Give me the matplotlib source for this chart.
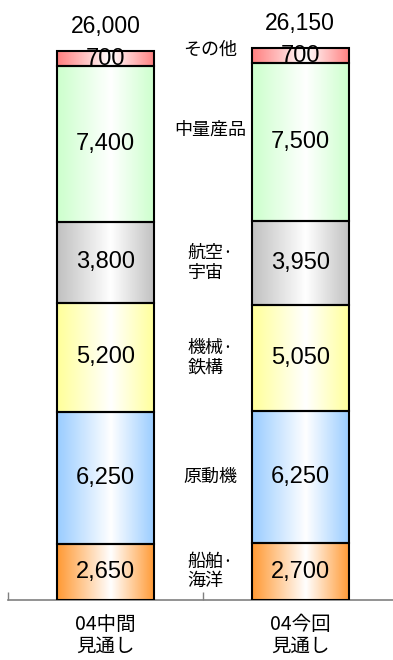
import numpy as np
import matplotlib
matplotlib.use('Agg')
import matplotlib.pyplot as plt
from matplotlib.colors import LinearSegmentedColormap, to_rgb
from matplotlib import font_manager

# データ（下から積み上げ）
bars = ['04中間\n見通し', '04今回\n見通し']
categories = ['船舶·\n海洋', '原動機', '機械·\n鉄構', '航空·\n宇宙', '中量産品', 'その他']
mid_values = [2650, 6250, 5200, 3800, 7400, 700]
now_values = [2700, 6250, 5050, 3950, 7500, 700]
totals = [26000, 26150]
colors = ['#FF9933', '#99CCFF', '#FFFF99', '#C0C0C0', '#CCFFCC', '#FF7F7F']

# 数字用のフォント（細めの書体があれば使う）
names = {f.name for f in font_manager.fontManager.ttflist}
num_font = 'Liberation Sans Narrow' if 'Liberation Sans Narrow' in names else 'Liberation Sans'
jp_font = ['Noto Sans CJK JP', 'DejaVu Sans']

fig = plt.figure(figsize=(3.93, 6.60), dpi=100)
ax = fig.add_axes([8 / 393, 60 / 660, 389.7 / 393, 600 / 660])

x = np.arange(len(bars))
width = 0.5
grad = np.linspace(0, 1, 256)[None, :]

for i, vals in enumerate([mid_values, now_values]):
    bottom = 0
    for v, c in zip(vals, colors):
        rect = ax.bar(x[i], v, width, bottom=bottom, facecolor='none',
                      edgecolor='black', linewidth=1.5, zorder=3)[0]
        # 横方向のグラデーション（端が色、中央寄りが白）
        cm = LinearSegmentedColormap.from_list('g', [(0, to_rgb(c)), (0.55, (1, 1, 1)), (1, to_rgb(c))])
        x0, y0 = rect.get_x(), rect.get_y()
        ax.imshow(grad, extent=[x0, x0 + rect.get_width(), y0, y0 + rect.get_height()],
                  aspect='auto', cmap=cm, zorder=2, interpolation='bicubic')
        ax.text(x[i], bottom + v / 2, f'{v:,}', ha='center', va='center',
                fontsize=17, family=num_font, zorder=4)
        bottom += v
    ax.annotate(f'{totals[i]:,}', (x[i], bottom), xytext=(0, 18), textcoords='offset points',
                ha='center', va='center', fontsize=16.5, family=num_font)

# 区分名は二本の棒の間に
nudge = {'中量産品': 9, 'その他': 4}
bottom = 0
for cat, v in zip(categories, now_values):
    ax.annotate(cat, (0.54, bottom + v / 2), xytext=(0, nudge.get(cat, 0)),
                textcoords='offset points', ha='center', va='center',
                multialignment='left', fontsize=13, family=jp_font, linespacing=1.1)
    bottom += v

ax.set_xlim(-0.5, 1.5)
ax.set_ylim(0, 28440)
ax.set_xticks(x)
ax.set_xticklabels(bars, fontsize=14, family=jp_font, linespacing=1.05)
ax.set_xticks([-0.5, 0.5, 1.5], minor=True)
ax.tick_params(axis='x', which='major', length=0, pad=10)
ax.tick_params(axis='x', which='minor', direction='in', length=6, color='#808080', width=1)
ax.set_yticks([])
for s in ['left', 'top', 'right']:
    ax.spines[s].set_visible(False)
ax.spines['bottom'].set_color('#808080')
ax.spines['bottom'].set_linewidth(1.2)

fig.savefig('out.png', dpi=100)
